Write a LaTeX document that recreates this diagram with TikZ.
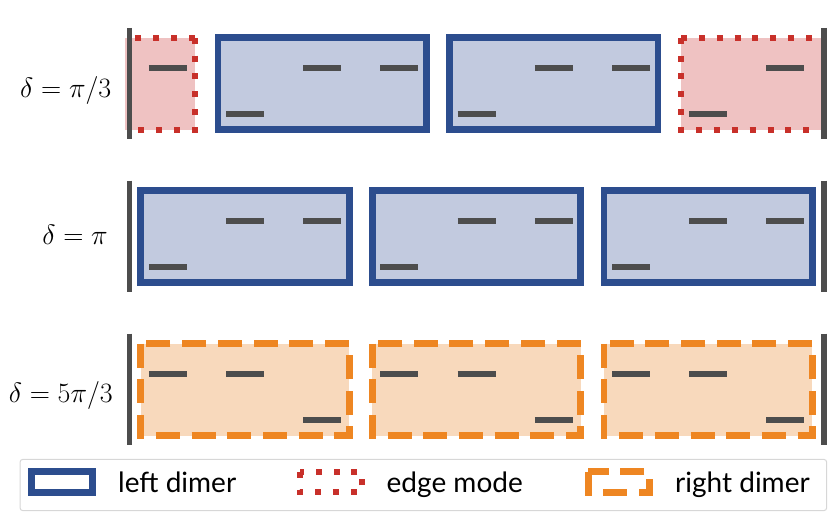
\RequirePackage{fix-cm}
\documentclass[tikz,border=0pt]{standalone}
\usepackage{amsmath}
\usepackage{fontspec}
\setsansfont{Lato}
\usepackage{tikz}

\definecolor{wallgray}{RGB}{77,77,77}
\definecolor{dimblue}{RGB}{44,77,142}
\definecolor{dimbluefill}{RGB}{194,202,223}
\definecolor{edgered}{RGB}{200,48,42}
\definecolor{edgefill}{RGB}{239,194,194}
\definecolor{dimorange}{RGB}{238,134,34}
\definecolor{dimorangefill}{RGB}{248,217,188}
\definecolor{legendgray}{RGB}{215,215,215}

\begin{document}
\begin{tikzpicture}
[%%%%%%%%%%%%%%%%%%%%%%%%%%%%%%
x=1pt,y=-1pt,
lvl/.style={draw=wallgray,line width=6pt},
wall/.style={draw=wallgray,line width=5.8pt},
leftdimer/.style={draw=dimblue,fill=dimbluefill,line width=6.7pt},
rightdimer/.style={draw=dimorange,fill=dimorangefill,line width=6.7pt,dash pattern=on 24pt off 11.7pt},
edgemode/.style={draw=edgered,line width=6pt,dash pattern=on 6pt off 11.86pt},
rowlabel/.style={anchor=base east,inner sep=0pt,font=\fontsize{28}{32}\selectfont},
legtext/.style={anchor=base west,inner sep=0pt,font=\sffamily\fontsize{28}{32}\selectfont},
]%%%%%%%%%%%%%%%%%%%%%%%%%%%%%%

\useasboundingbox (0,0) rectangle (830,514);

% delta = pi/3
\fill[edgefill] (125,37.75) rectangle (195,129.75);
\draw[edgemode] (195,37.75) -- (129.5,37.75) (195,37.75) -- (195,129.75) -- (129.5,129.75);
\fill[edgefill] (681,37.75) rectangle (823,129.75);
\draw[edgemode] (681,37.75) -- (823,37.75) (681,37.75) -- (681,129.75) -- (823,129.75);
\foreach \k in {2,5}
\draw[leftdimer] ({90.6+77.2*\k-27},37.75) rectangle +(208.4,92);
\foreach \k in {1,3,4,6,7,9}
\draw[lvl] ({90.6+77.2*\k-19},68.25) -- +(38,0);
\foreach \k in {2,5,8}
\draw[lvl] ({90.6+77.2*\k-19},114.25) -- +(38,0);
\node[rowlabel] (lab1) at (111.5,97) {$\delta=\pi/3$};

% delta = pi
\foreach \k in {1,4,7}{
\draw[leftdimer] ({90.6+77.2*\k-27},190.5) rectangle +(208.4,92);
\draw[lvl] ({90.6+77.2*\k-19},267) -- +(38,0);
\draw[lvl] ({90.6+77.2*(\k+1)-19},221) -- +(38,0);
\draw[lvl] ({90.6+77.2*(\k+2)-19},221) -- +(38,0);
}
\node[rowlabel] (lab2) at (108,244) {$\delta=\pi$};

% delta = 5pi/3
\foreach \k in {1,4,7}{
\draw[rightdimer] ({90.6+77.2*\k-27},343.5) rectangle +(208.4,92);
\draw[lvl] ({90.6+77.2*\k-19},374) -- +(38,0);
\draw[lvl] ({90.6+77.2*(\k+1)-19},374) -- +(38,0);
\draw[lvl] ({90.6+77.2*(\k+2)-19},420) -- +(38,0);
}
\node[rowlabel] (lab3) at (113,402) {$\delta=5\pi/3$};

% walls
\foreach \c in {83.75,236.5,389.5}{
\draw[wall] (129.5,\c-56) -- (129.5,\c+55.5);
\draw[wall] (823.7,\c-56) -- (823.7,\c+55.5);
}

% legend
\draw[legendgray,line width=1pt,rounded corners=3pt,fill=white] (20,459.3) rectangle (826.7,510.7);
\draw[leftdimer,fill=white] (31.7,471.7) rectangle (92.3,492.3);
\node[legtext] (legleft) at (118,492.3) {left dimer};
\draw[edgemode] (300,471.7) rectangle (361.7,492.3);
\node[legtext] (legedge) at (386.5,492.3) {edge mode};
\draw[rightdimer,fill=white] (588.3,471.7) rectangle (649.3,492.3);
\node[legtext] (legright) at (675,492.3) {right dimer};
\end{tikzpicture}
\end{document}
